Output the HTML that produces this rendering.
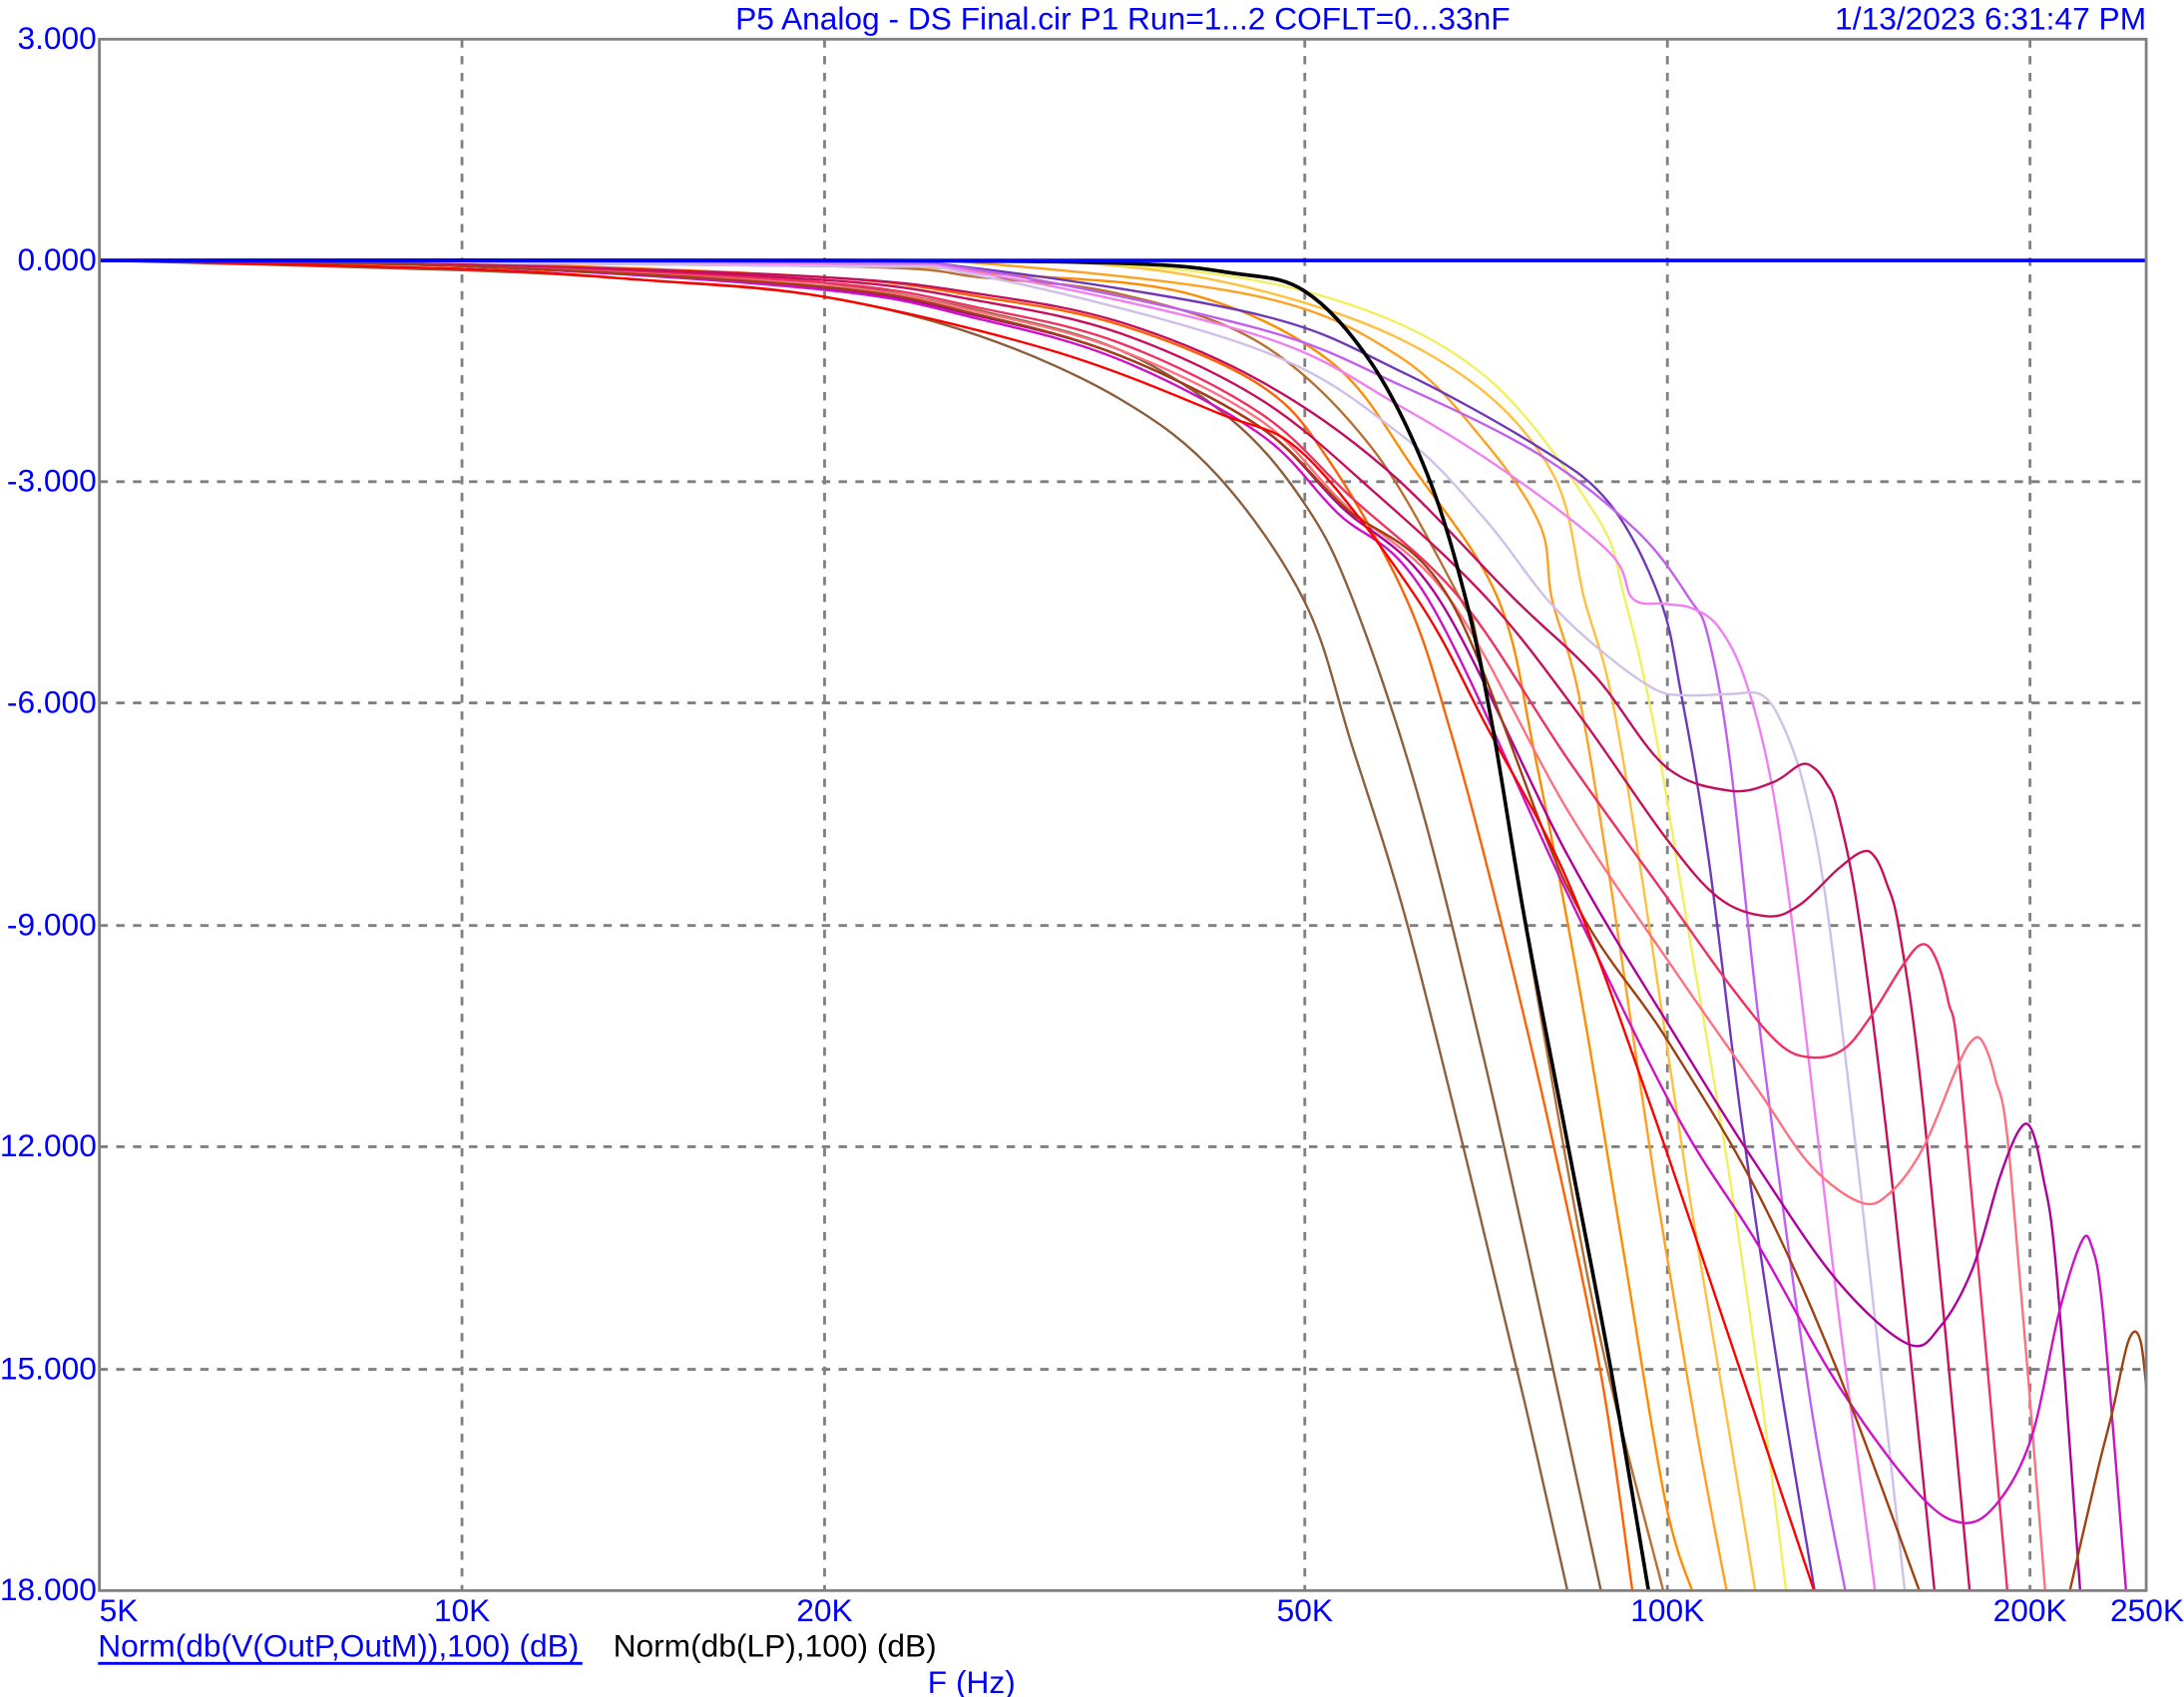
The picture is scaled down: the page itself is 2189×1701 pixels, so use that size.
<!DOCTYPE html>
<html><head><meta charset="utf-8"><style>
html,body{margin:0;padding:0;background:#fff;overflow:hidden}
svg{display:block}
text{font-family:"Liberation Sans",Arial,sans-serif;font-size:22.6px;fill:#0000ff}
</style></head><body>
<svg id="s" width="2189" height="1701" viewBox="0 0 1560 1212" preserveAspectRatio="none" xmlns="http://www.w3.org/2000/svg">
<defs><clipPath id="c"><rect x="71" y="28" width="1462" height="1108"/></clipPath></defs>
<rect x="0" y="0" width="1560" height="1212" fill="#fff"/>
<g stroke="#808080" stroke-width="2" stroke-dasharray="6,6" fill="none">
<line x1="330" y1="28" x2="330" y2="1136"/><line x1="589" y1="28" x2="589" y2="1136"/>
<line x1="932" y1="28" x2="932" y2="1136"/><line x1="1191" y1="28" x2="1191" y2="1136"/>
<line x1="1450" y1="28" x2="1450" y2="1136"/>
<line x1="71" y1="344" x2="1533" y2="344"/><line x1="71" y1="502" x2="1533" y2="502"/>
<line x1="71" y1="661" x2="1533" y2="661"/><line x1="71" y1="819" x2="1533" y2="819"/>
<line x1="71" y1="978" x2="1533" y2="978"/>
</g>
<g id="curves" clip-path="url(#c)" fill="none" stroke-width="1.7" stroke-linejoin="round"></g>
<line x1="71" y1="186" x2="1533" y2="186" stroke="#0000ff" stroke-width="2.6"/>
<rect x="71" y="28" width="1462" height="1108" fill="none" stroke="#808080" stroke-width="2"/>
<text x="802" y="21" text-anchor="middle">P5 Analog - DS Final.cir P1 Run=1...2 COFLT=0...33nF</text>
<text x="1533" y="21" text-anchor="end">1/13/2023 6:31:47 PM</text>
<g text-anchor="end">
<text x="69" y="35">3.000</text><text x="69" y="193">0.000</text><text x="69" y="351">-3.000</text>
<text x="69" y="509">-6.000</text><text x="69" y="668">-9.000</text><text x="69" y="826">12.000</text>
<text x="69" y="985">15.000</text><text x="69" y="1143">18.000</text>
</g>
<text x="71" y="1158">5K</text>
<text x="330" y="1158" text-anchor="middle">10K</text>
<text x="589" y="1158" text-anchor="middle">20K</text>
<text x="932" y="1158" text-anchor="middle">50K</text>
<text x="1191" y="1158" text-anchor="middle">100K</text>
<text x="1450" y="1158" text-anchor="middle">200K</text>
<text x="1560" y="1158" text-anchor="end">250K</text>
<text x="70" y="1183">Norm(db(V(OutP,OutM)),100) (dB)</text>
<line x1="70" y1="1188" x2="416" y2="1188" stroke="#0000ff" stroke-width="2"/>
<text x="438" y="1183" style="fill:#000">Norm(db(LP),100) (dB)</text>
<text x="694" y="1209" text-anchor="middle">F (Hz)</text>
</svg>
<script>
function Z(x,y){return [966+x*0.3852,427.6+y*0.46];}
var C=[
["#8B5E3C",[[330,193],[460,200],[589,212],[700,240],[800,285],[870,340],[932,430]],[[0,230],[100,500],[220,900],[320,1250],[400,1545]]],
["#8B5E3C",[[330,189],[460,194],[589,202],[700,222],[800,250],[880,300],[932,360]],[[0,0],[120,300],[240,700],[360,1150],[462,1545]]],
["#FF6000",[[330,188],[589,198],[700,212],[800,232],[900,275],[950,330]],[[100,0],[180,200],[260,450],[360,800],[460,1200],[520,1545]]],
["#B87030",[[589,190],[700,198],[800,210],[900,245],[980,320]],[[200,0],[230,60],[280,300],[360,700],[460,1150],[578,1545]]],
["#FF8C00",[[589,189],[720,196],[850,210],[950,258],[1010,335]],[[270,0],[340,250],[420,600],[500,1000],[580,1400],[632,1545]]],
["#FFA020",[[589,187],[700,188],[900,212],[1000,255],[1060,315],[1100,375]],[[370,0],[420,150],[480,450],[560,900],[640,1300],[695,1545]]],
["#FFC040",[[589,187],[800,190],[950,222],[1050,272],[1110,340]],[[430,0],[480,150],[540,450],[620,900],[700,1300],[748,1545]]],
["#F0F060",[[589,187],[800,189],[950,213],[1060,268],[1140,368]],[[505,0],[560,200],[620,500],[700,900],[760,1250],[805,1545]]],
["#7038B8",[[589,188],[700,192],[900,225],[1000,265],[1100,320],[1150,360]],[[570,0],[610,150],[660,400],[720,800],[790,1200],[858,1545]]],
["#C060F0",[[589,188],[700,193],[900,235],[1000,275],[1100,325],[1170,380]],[[625,0],[660,60],[700,250],[760,700],[850,1250],[915,1545]]],
["#F080F0",[[589,189],[700,195],[900,240],[1000,290],[1080,340],[1150,395]],[[520,0],[580,8],[630,15],[680,45],[730,130],[780,300],[830,600],[900,1100],[970,1545]]],
["#D0C0E8",[[589,190],[700,197],[900,250],[1000,310],[1060,370]],[[360,0],[460,80],[560,140],[620,150],[700,148],[760,150],[800,200],[840,300],[880,480],[940,900],[1025,1545]]],
["#C01060",[[330,189],[589,198],[700,210],[800,230],[900,272],[990,335]],[[300,0],[450,120],[580,260],[700,298],[780,285],[830,258],[855,262],[878,285],[900,330],[940,500],[1000,900],[1080,1545]]],
["#C8105A",[[330,189],[589,200],[700,215],[800,238],[900,285],[980,350]],[[250,0],[420,180],[580,370],[680,465],[770,493],[830,475],[900,420],[945,393],[968,400],[990,440],[1015,520],[1060,800],[1145,1545]]],
["#F03060",[[330,190],[589,202],[700,220],[800,245],[900,295],[965,355]],[[200,0],[400,250],[580,460],[700,600],[790,690],[850,712],[910,700],[960,650],[1020,570],[1055,537],[1080,555],[1105,625],[1130,760],[1215,1545]]],
["#FF7080",[[330,190],[589,204],[700,223],[800,250],[900,300],[960,360]],[[180,0],[400,330],[600,580],[750,760],[850,880],[945,938],[1000,920],[1060,850],[1120,730],[1148,687],[1168,687],[1192,745],[1220,880],[1285,1545]]],
["#B0009A",[[330,190],[589,206],[700,226],[800,254],[900,305],[958,362]],[[160,0],[400,400],[600,680],[750,880],[900,1060],[1030,1157],[1090,1130],[1150,1040],[1200,900],[1235,827],[1258,822],[1280,895],[1305,1040],[1350,1545]]],
["#D010C8",[[330,190],[589,207],[700,228],[800,257],[900,310],[955,366]],[[140,0],[400,460],[600,800],[750,1000],[900,1220],[1050,1390],[1135,1435],[1200,1400],[1260,1300],[1310,1110],[1350,1002],[1370,1003],[1392,1110],[1435,1545]]],
["#A04010",[[330,190],[589,205],[700,225],[800,254],[900,305],[960,362]],[[180,0],[400,450],[580,680],[750,920],[900,1200],[1060,1560]]],
["#A04010",[],[[1325,1560],[1380,1360],[1410,1260],[1440,1150],[1462,1155],[1478,1280],[1490,1400]]],
["#FF0000",[[330,192],[460,200],[589,212],[750,250],[870,295],[932,325]],[[120,0],[250,200],[400,440],[550,780],[700,1150],[858,1545]]],
["#000000",[[589,186],[800,188],[880,195],[932,208],[980,260],[1020,340]],[[210,0],[260,200],[320,500],[400,850],[480,1200],[550,1545]]]
];
var g=document.getElementById('curves'),ns="http://www.w3.org/2000/svg";
function f(n){return n.toFixed(1);}
C.forEach(function(c){
 var p=[];
 if(c[1].length){p.push([71,186]);c[1].forEach(function(q){p.push(q)});}
 c[2].forEach(function(q){p.push(Z(q[0],q[1]))});
 var d="M"+f(p[0][0])+","+f(p[0][1]);
 for(var i=0;i<p.length-1;i++){
  var p0=p[i>0?i-1:i],p1=p[i],p2=p[i+1],p3=p[i+2<p.length?i+2:i+1];
  var c1=[p1[0]+(p2[0]-p0[0])/6,p1[1]+(p2[1]-p0[1])/6];
  var c2=[p2[0]-(p3[0]-p1[0])/6,p2[1]-(p3[1]-p1[1])/6];
  d+=" C"+f(c1[0])+","+f(c1[1])+" "+f(c2[0])+","+f(c2[1])+" "+f(p2[0])+","+f(p2[1]);
 }
 var e=document.createElementNS(ns,'path');
 e.setAttribute('d',d);
 e.setAttribute('stroke',c[0]);
 if(c[0]=="#000000")e.setAttribute('stroke-width','2.6');
 g.appendChild(e);
});
</script>
</body></html>
